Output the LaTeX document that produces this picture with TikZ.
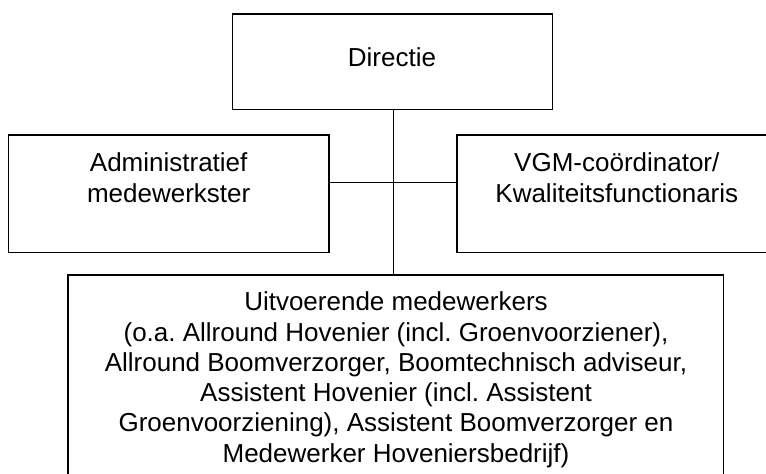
\documentclass[tikz,border=0pt]{standalone}
\usepackage{fontspec}
\setmainfont{Liberation Sans}
\frenchspacing
\begin{document}
\begin{tikzpicture}[x=1pt,y=-1pt,
  orgbox/.style={draw=black, line width=1.5pt, rectangle, inner sep=0pt},
  orgtext/.style={anchor=north, align=center, inner sep=0pt,
    font=\fontsize{26}{30.3}\selectfont\frenchspacing, text=black},
  link/.style={draw=black, line width=1.3pt}]
\useasboundingbox (0,0) rectangle (766,474);
\clip (0,0) rectangle (766,474);
% boxes
\node[orgbox, minimum width=320pt, minimum height=95.3pt] (dir) at (392.7,61.7) {};
\node[orgbox, minimum width=320.5pt, minimum height=117.7pt] (adm) at (168.75,193.85) {};
\node[orgbox, minimum width=320.5pt, minimum height=117.7pt] (vgm) at (617,193.85) {};
\node[orgbox, minimum width=655.2pt, minimum height=215pt] (uit) at (395.8,382.5) {};
% texts
\node[orgtext] (tdir) at (392,45) {\rule{0pt}{21pt}Directie};
\node[orgtext] (tadm) at (168.7,150.5) {\rule{0pt}{21pt}Administratief\\medewerkster};
\node[orgtext] (tvgm) at (616.8,150.5) {\rule{0pt}{21pt}VGM-coördinator/\\Kwaliteitsfunctionaris};
\node[orgtext] (tuit) at (396,289.5) {\rule{0pt}{21pt}Uitvoerende medewerkers\\
(o.a. Allround Hovenier (incl. Groenvoorziener),\\
Allround Boomverzorger, Boomtechnisch adviseur,\\
Assistent Hovenier (incl. Assistent\\
Groenvoorziening), Assistent Boomverzorger en\\
Medewerker Hoveniersbedrijf)};
% connectors
\coordinate (vx) at (393.3,182.7);
\draw[link] (vx |- dir.south) -- (vx |- uit.north);
\draw[link] (adm.east |- vx) -- (vgm.west |- vx);
\end{tikzpicture}
\end{document}
